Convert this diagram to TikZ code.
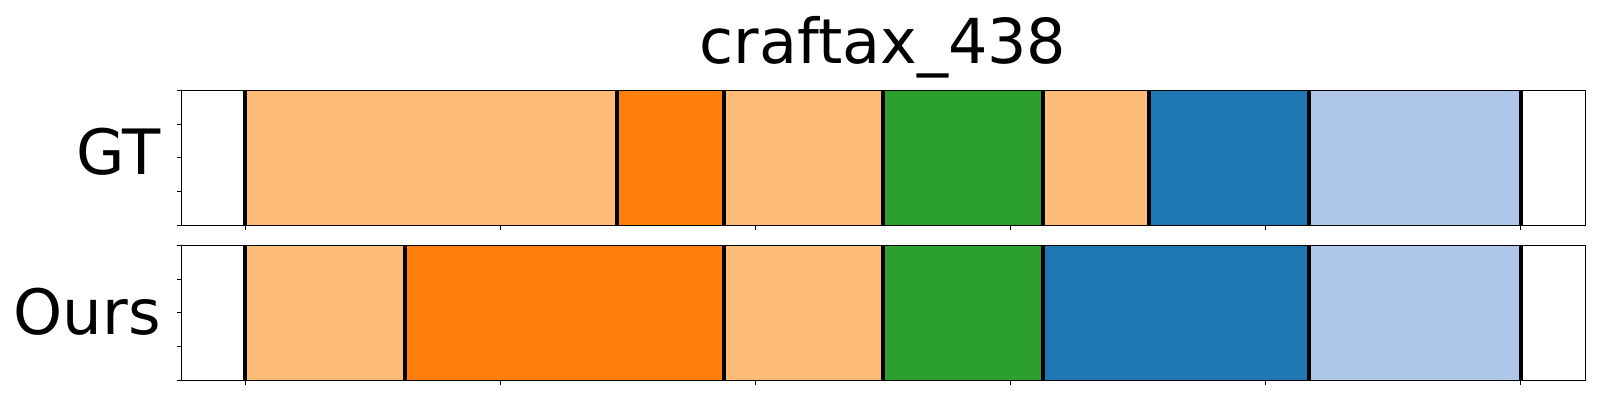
\documentclass[tikz,border=0pt]{standalone}
\usepackage{fontspec}
\setmainfont{DejaVu Sans}

\definecolor{lorange}{HTML}{FFBB78}
\definecolor{dorange}{HTML}{FF7F0E}
\definecolor{green}{HTML}{2CA02C}
\definecolor{blue}{HTML}{1F77B4}
\definecolor{lblue}{HTML}{AEC7E8}

\tikzset{
  cut/.style={line width=4pt},
  frame/.style={line width=1.1pt},
  tickmark/.style={line width=1pt},
  rowlabel/.style={anchor=base east,inner sep=0pt,font=\fontsize{62.5}{70}\selectfont},
}

\begin{document}
\begin{tikzpicture}[x=1pt,y=-1pt]
\useasboundingbox (0,0) rectangle (1600,400);

% GT row
\foreach \a/\b/\c in {244.7/617/lorange,617/724/dorange,724/883/lorange,883/1043/green,
  1043/1149/lorange,1149/1309/blue,1309/1521/lblue}
  \fill[\c] (\a,90.3) rectangle (\b,225.3);
\foreach \x in {244.7,617,724,883,1043,1149,1309,1521}
  \draw[cut] (\x,90.3) -- (\x,225.3);
\draw[frame] (181.3,90.3) rectangle (1585.3,225.3);

% Ours row
\foreach \a/\b/\c in {244.7/405/lorange,405/724/dorange,724/883/lorange,883/1043/green,
  1043/1309/blue,1309/1521/lblue}
  \fill[\c] (\a,245.3) rectangle (\b,380.3);
\foreach \x in {244.7,405,724,883,1043,1309,1521}
  \draw[cut] (\x,245.3) -- (\x,380.3);
\draw[frame] (181.3,245.3) rectangle (1585.3,380.3);

% ticks
\foreach \k in {0,...,4} {
  \draw[tickmark] (176.5,90.3+33.75*\k) -- (181.3,90.3+33.75*\k);
  \draw[tickmark] (176.5,245.3+33.75*\k) -- (181.3,245.3+33.75*\k);
}
\foreach \k in {0,...,5} {
  \draw[tickmark] (245.5+255*\k,225.3) -- (245.5+255*\k,230.2);
  \draw[tickmark] (245.5+255*\k,380.3) -- (245.5+255*\k,385.2);
}

\node[rowlabel] (gt) at (161,174.3) {GT};
\node[rowlabel] (ours) at (161,334.5) {Ours};
\node[anchor=base,inner sep=0pt,font=\fontsize{62}{70}\selectfont] (title) at (883,63.3) {craftax\_438};
\end{tikzpicture}
\end{document}
